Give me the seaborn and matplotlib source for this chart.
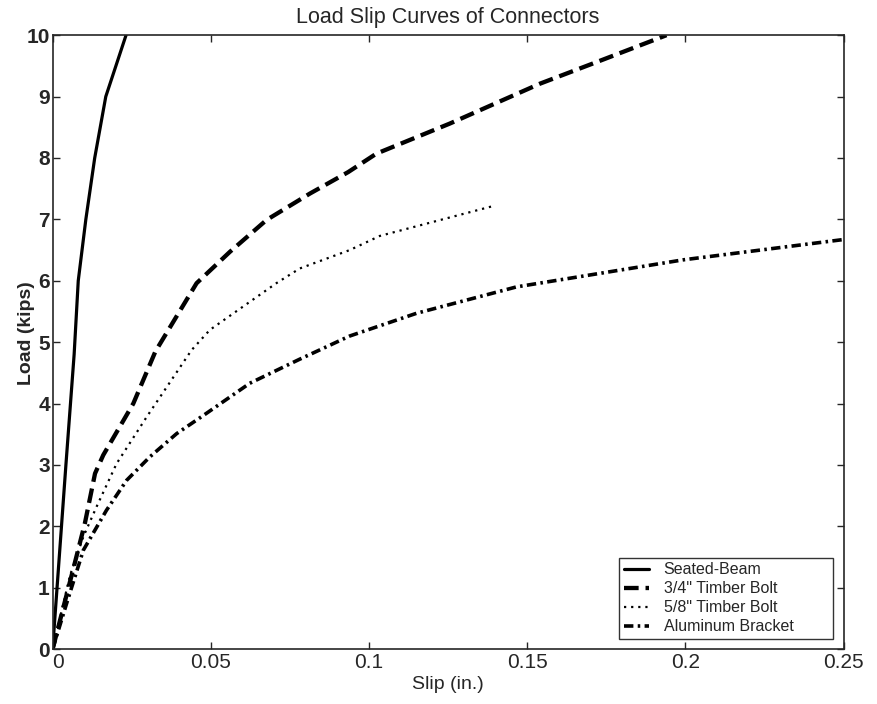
import pandas as pd
import matplotlib
matplotlib.use('Agg')
import matplotlib.pyplot as plt
import seaborn as sns

# Load-slip data (slip in., load kips)
seated_slip = [0, 0.0042, 0.0068, 0.0081, 0.0105, 0.0133, 0.0168, 0.0232]
seated_load = [0, 3.0, 4.8, 6.0, 7.0, 8.0, 9.0, 10.0]

bolt34_slip = [0, 0.0035, 0.007, 0.0102, 0.0134, 0.016, 0.0255, 0.0325, 0.0455,
               0.056, 0.0676, 0.0813, 0.0934, 0.1023, 0.1255, 0.154, 0.1708, 0.194]
bolt34_load = [0, 0.7, 1.4, 2.05, 2.86, 3.16, 4.0, 4.85, 5.96,
               6.47, 6.99, 7.42, 7.77, 8.07, 8.56, 9.21, 9.54, 10.0]

bolt58_slip = [0, 0.0055, 0.0097, 0.0139, 0.0202, 0.0297, 0.0439, 0.0497,
               0.0707, 0.0781, 0.0939, 0.1034, 0.1387]
bolt58_load = [0, 1.2, 1.83, 2.32, 3.02, 3.78, 4.87, 5.2,
               5.96, 6.2, 6.5, 6.73, 7.21]

alum_slip = [0, 0.0044, 0.0097, 0.017, 0.0234, 0.0307, 0.0392, 0.0486,
             0.0623, 0.078, 0.0939, 0.115, 0.1466, 0.1992, 0.2497]
alum_load = [0, 0.74, 1.61, 2.26, 2.75, 3.13, 3.51, 3.84,
             4.33, 4.72, 5.1, 5.47, 5.9, 6.34, 6.67]

names = ['Seated-Beam', '3/4" Timber Bolt', '5/8" Timber Bolt', 'Aluminum Bracket']

sns.set_style('ticks')
plt.rcParams['font.family'] = ['Liberation Sans', 'DejaVu Sans']

fig = plt.figure(figsize=(8.77, 7.04), dpi=100)
ax = fig.add_axes([0.060, 0.078, 0.902, 0.872])

series = [
    (seated_slip, seated_load, 2.3, None),
    (bolt34_slip, bolt34_load, 3.1, (3.4, 1.6)),
    (bolt58_slip, bolt58_load, 1.6, (1.0, 2.2)),
    (alum_slip, alum_load, 2.6, (2.6, 1.2, 0.7, 1.2)),
]
for (xs, ys, lw, dash), name in zip(series, names):
    df = pd.DataFrame({'slip': xs, 'load': ys})
    sns.lineplot(data=df, x='slip', y='load', ax=ax, color='black',
                 linewidth=lw, sort=False, estimator=None, label=name)
    if dash is not None:
        ax.lines[-1].set_dashes(dash)

ax.set_xlim(0, 0.25)
ax.set_ylim(0, 10)
ax.set_xticks([0, 0.05, 0.1, 0.15, 0.2, 0.25])
ax.set_xticklabels(['0', '0.05', '0.1', '0.15', '0.2', '0.25'])
ax.set_yticks(range(0, 11))
ax.tick_params(direction='in', top=True, right=True, length=5, width=1,
               labelsize=15)
ax.tick_params(axis='x', pad=3)
ax.tick_params(axis='y', pad=2)
for t in ax.get_yticklabels():
    t.set_fontweight('bold')
# x "0" sits just right of the corner, next to the y "0"
ax.get_xticklabels()[0].set_horizontalalignment('left')
for s in ax.spines.values():
    s.set_linewidth(1.2)

ax.set_title('Load Slip Curves of Connectors', fontsize=15.5, pad=9)
ax.set_xlabel('Slip (in.)', fontsize=14, labelpad=3)
ax.set_ylabel('Load (kips)', fontsize=14, fontweight='bold')
ax.yaxis.set_label_coords(-0.022, 0.515)

leg = ax.legend(loc='lower left', bbox_to_anchor=(0.716, 0.016, 0.271, 0.132),
                mode='expand', fontsize=11.5, frameon=True, fancybox=False,
                handlelength=1.6, borderpad=0.3, labelspacing=0.25,
                handletextpad=0.9, borderaxespad=0)
leg.get_frame().set_edgecolor('black')
leg.get_frame().set_linewidth(1.0)

plt.savefig('out.png', dpi=100)
